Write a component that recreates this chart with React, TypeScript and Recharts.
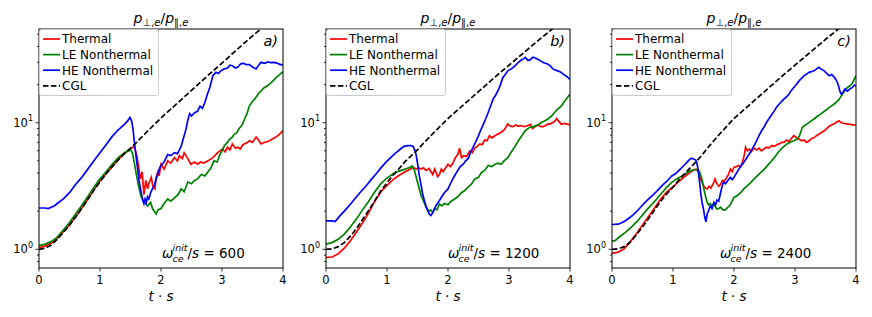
import React from 'react';
import { LineChart, Line, XAxis, YAxis } from 'recharts';

type Pt = [number, number];

const X_TICKS = [0, 1, 2, 3, 4];
const Y_TICKS = [0.8, 0.9, 1, 2, 3, 4, 5, 6, 7, 8, 9, 10, 20, 30, 40, 50];
const Y_DOMAIN: [number, number] = [0.712, 55];
const FONT = '"DejaVu Sans", "Liberation Sans", sans-serif';

// ---- panel a) omega/s = 600 ----
const aThermal: Pt[] = [
  [0, 1.03], [0.1, 1.06], [0.2, 1.12], [0.3, 1.22], [0.4, 1.38], [0.5, 1.56], [0.6, 1.8], [0.7, 2.12],
  [0.8, 2.5], [0.9, 2.95], [1.0, 3.45], [1.1, 3.95], [1.2, 4.5], [1.3, 5.1], [1.4, 5.7], [1.5, 6.25],
  [1.56, 6.5], [1.6, 5.6], [1.63, 4.6], [1.66, 3.6], [1.69, 4.1], [1.72, 2.7], [1.75, 3.5], [1.78, 3.0],
  [1.8, 3.3], [1.84, 3.7], [1.87, 3.1], [1.9, 3.0], [1.92, 3.7], [1.95, 4.1], [1.97, 3.8], [2.0, 4.7],
  [2.05, 4.3], [2.11, 5.0], [2.16, 4.8], [2.22, 5.3], [2.27, 5.0], [2.3, 5.5], [2.35, 5.2], [2.38, 5.8],
  [2.42, 5.4], [2.44, 5.2], [2.49, 4.7], [2.55, 4.9], [2.6, 4.7], [2.65, 4.9], [2.7, 4.8], [2.77, 5.0],
  [2.85, 5.3], [2.93, 5.8], [3.01, 6.2], [3.05, 5.9], [3.09, 6.4], [3.13, 6.1], [3.17, 6.8], [3.22, 6.3],
  [3.26, 6.4], [3.3, 6.2], [3.34, 6.7], [3.4, 6.9], [3.45, 7.2], [3.5, 7.0], [3.56, 7.7], [3.6, 7.3],
  [3.64, 6.8], [3.7, 7.0], [3.75, 7.1], [3.8, 7.3], [3.86, 7.6], [3.9, 7.8], [3.94, 8.1], [4.0, 8.65],
];
const aLE: Pt[] = [
  [0, 1.07], [0.1, 1.1], [0.2, 1.15], [0.3, 1.25], [0.4, 1.42], [0.5, 1.63], [0.6, 1.9], [0.7, 2.22],
  [0.8, 2.62], [0.9, 3.1], [1.0, 3.6], [1.1, 4.1], [1.2, 4.7], [1.3, 5.3], [1.4, 5.8], [1.5, 6.1],
  [1.53, 5.8], [1.56, 4.9], [1.6, 3.8], [1.63, 3.2], [1.67, 2.65], [1.72, 2.35], [1.78, 2.2], [1.83, 2.35],
  [1.86, 2.1], [1.89, 2.0], [1.92, 1.9], [1.95, 2.05], [2.0, 2.1], [2.05, 2.3], [2.11, 2.5], [2.16, 2.4],
  [2.22, 2.55], [2.28, 2.7], [2.33, 3.0], [2.38, 2.85], [2.44, 3.4], [2.5, 3.3], [2.55, 3.5], [2.6, 3.6],
  [2.66, 3.9], [2.72, 3.8], [2.77, 4.1], [2.82, 4.4], [2.87, 5.0], [2.92, 4.9], [2.96, 5.5], [3.0, 6.0],
  [3.04, 6.6], [3.08, 6.9], [3.12, 7.4], [3.16, 7.6], [3.2, 8.1], [3.24, 8.3], [3.28, 9.0], [3.33, 9.6],
  [3.37, 10.7], [3.41, 11.8], [3.45, 13.6], [3.49, 14.5], [3.53, 15.3], [3.57, 16.2], [3.61, 17.3],
  [3.65, 18.0], [3.69, 18.9], [3.74, 19.5], [3.78, 20.2], [3.82, 21.0], [3.86, 22.0], [3.9, 23.0],
  [3.94, 23.9], [4.0, 25.3],
];
const aHE: Pt[] = [
  [0, 2.12], [0.1, 2.12], [0.15, 2.1], [0.2, 2.15], [0.25, 2.2], [0.3, 2.3], [0.4, 2.5], [0.5, 2.8],
  [0.6, 3.25], [0.7, 3.7], [0.8, 4.3], [0.9, 5.0], [1.0, 5.8], [1.1, 6.7], [1.2, 7.8], [1.3, 8.8],
  [1.4, 9.7], [1.45, 10.3], [1.49, 11.0], [1.52, 10.3], [1.54, 9.0], [1.56, 7.3], [1.58, 6.0], [1.61, 4.6],
  [1.64, 3.5], [1.67, 2.9], [1.7, 2.45], [1.72, 2.3], [1.74, 2.5], [1.76, 2.35], [1.78, 2.6], [1.8, 2.5],
  [1.83, 2.8], [1.86, 3.0], [1.89, 3.2], [1.92, 3.6], [1.95, 4.0], [1.98, 4.4], [2.0, 4.6], [2.05, 4.9],
  [2.11, 5.6], [2.16, 5.5], [2.22, 5.8], [2.27, 5.7], [2.33, 6.5], [2.37, 7.6], [2.41, 8.9], [2.44, 10.5],
  [2.47, 11.8], [2.5, 11.3], [2.55, 12.0], [2.6, 12.3], [2.64, 13.5], [2.68, 13.0], [2.72, 14.5],
  [2.76, 16.8], [2.8, 19.0], [2.85, 23.5], [2.9, 25.0], [2.94, 24.5], [2.98, 25.7], [3.03, 26.5],
  [3.09, 27.0], [3.13, 28.5], [3.17, 28.2], [3.22, 27.0], [3.26, 27.5], [3.3, 29.0], [3.34, 29.5],
  [3.4, 28.8], [3.45, 28.8], [3.5, 27.5], [3.56, 26.6], [3.6, 28.5], [3.64, 30.0], [3.7, 29.5],
  [3.75, 30.2], [3.8, 29.8], [3.86, 30.0], [3.9, 29.6], [3.94, 29.0], [4.0, 28.5],
];
const aCGL: Pt[] = [
  [0, 1.0], [0.1, 1.02], [0.2, 1.08], [0.3, 1.2], [0.4, 1.36], [0.5, 1.55], [0.6, 1.8], [0.7, 2.1],
  [0.8, 2.48], [0.9, 2.93], [1.0, 3.42], [1.1, 3.95], [1.2, 4.5], [1.3, 5.1], [1.4, 5.7], [1.5, 6.3],
  [1.6, 7.0], [1.75, 8.3], [2.0, 10.9], [2.25, 14.0], [2.5, 18.0], [2.75, 23.2], [3.0, 29.6],
  [3.25, 38], [3.5, 48.5], [3.75, 61], [4.0, 77],
];

// ---- panel b) omega/s = 1200 ----
const bThermal: Pt[] = [
  [0, 0.865], [0.1, 0.87], [0.2, 0.92], [0.3, 1.02], [0.4, 1.17], [0.5, 1.37], [0.6, 1.62], [0.7, 1.95],
  [0.8, 2.4], [0.9, 2.85], [1.0, 3.2], [1.1, 3.55], [1.2, 3.85], [1.3, 4.1], [1.4, 4.35], [1.43, 4.45],
  [1.48, 4.3], [1.52, 4.4], [1.56, 4.3], [1.6, 4.4], [1.64, 4.2], [1.69, 4.35], [1.72, 4.1], [1.75, 3.9],
  [1.78, 4.3], [1.8, 4.1], [1.83, 3.75], [1.86, 3.9], [1.89, 4.3], [1.92, 4.1], [1.96, 4.4], [2.0, 4.7],
  [2.04, 4.5], [2.08, 4.8], [2.12, 5.3], [2.16, 5.6], [2.19, 6.3], [2.22, 5.3], [2.26, 5.5], [2.3, 5.4],
  [2.36, 6.0], [2.4, 5.8], [2.44, 6.3], [2.48, 6.5], [2.52, 6.8], [2.56, 6.7], [2.6, 7.3], [2.64, 7.2],
  [2.68, 7.9], [2.72, 7.6], [2.77, 7.9], [2.81, 8.1], [2.85, 8.3], [2.9, 8.6], [2.93, 8.9], [2.98, 9.8],
  [3.02, 9.4], [3.07, 9.3], [3.11, 9.6], [3.15, 9.4], [3.2, 9.5], [3.25, 9.3], [3.31, 9.5], [3.35, 9.7],
  [3.39, 9.0], [3.44, 9.4], [3.48, 9.6], [3.52, 9.3], [3.56, 9.3], [3.6, 9.5], [3.64, 9.8], [3.68, 9.8],
  [3.72, 10.05], [3.76, 10.4], [3.78, 10.8], [3.82, 10.2], [3.86, 9.7], [3.9, 9.9], [3.94, 9.8], [4.0, 9.6],
];
const bLE: Pt[] = [
  [0, 1.1], [0.1, 1.13], [0.2, 1.2], [0.3, 1.32], [0.4, 1.5], [0.5, 1.74], [0.6, 2.05], [0.7, 2.4],
  [0.8, 2.85], [0.9, 3.3], [1.0, 3.65], [1.1, 3.95], [1.2, 4.15], [1.3, 4.3], [1.38, 4.45], [1.41, 4.55],
  [1.45, 4.2], [1.5, 3.4], [1.53, 3.0], [1.56, 2.65], [1.6, 2.4], [1.64, 2.15], [1.69, 2.0], [1.72, 2.05],
  [1.75, 1.95], [1.78, 2.1], [1.82, 2.05], [1.86, 2.28], [1.9, 2.2], [1.94, 2.3], [2.0, 2.25], [2.05, 2.4],
  [2.11, 2.5], [2.16, 2.6], [2.22, 2.8], [2.27, 2.9], [2.33, 3.1], [2.38, 3.25], [2.44, 3.6], [2.5, 3.7],
  [2.55, 4.05], [2.6, 4.2], [2.66, 4.6], [2.72, 4.5], [2.77, 4.7], [2.82, 4.8], [2.87, 4.7], [2.92, 5.0],
  [2.98, 5.3], [3.03, 5.8], [3.09, 6.4], [3.13, 6.9], [3.17, 7.4], [3.22, 8.0], [3.26, 8.6], [3.3, 8.9],
  [3.34, 9.2], [3.38, 9.2], [3.42, 9.4], [3.47, 9.6], [3.53, 10.05], [3.58, 10.3], [3.64, 10.7],
  [3.7, 11.3], [3.75, 12.1], [3.8, 12.8], [3.86, 13.6], [3.9, 14.5], [3.94, 15.4], [4.0, 16.8],
];
const bHE: Pt[] = [
  [0, 1.68], [0.1, 1.68], [0.15, 1.66], [0.22, 1.82], [0.33, 2.08], [0.41, 2.3], [0.49, 2.57], [0.57, 2.85],
  [0.66, 3.18], [0.74, 3.55], [0.82, 3.93], [0.9, 4.4], [0.98, 4.86], [1.06, 5.3], [1.15, 5.8], [1.22, 6.2],
  [1.28, 6.5], [1.34, 6.6], [1.39, 6.6], [1.43, 6.5], [1.46, 6.0], [1.48, 5.5], [1.5, 4.8], [1.53, 3.8],
  [1.56, 3.2], [1.58, 2.8], [1.61, 2.45], [1.64, 2.2], [1.67, 2.0], [1.7, 1.88], [1.72, 1.85], [1.75, 1.95],
  [1.78, 2.1], [1.8, 2.2], [1.84, 2.35], [1.89, 2.57], [1.94, 2.8], [2.0, 3.0], [2.04, 3.3], [2.08, 3.6],
  [2.12, 3.9], [2.16, 4.2], [2.2, 4.5], [2.25, 4.7], [2.29, 5.0], [2.33, 5.2], [2.37, 5.8], [2.41, 6.4],
  [2.45, 7.0], [2.49, 7.7], [2.53, 8.6], [2.57, 9.5], [2.62, 10.8], [2.66, 12.1], [2.7, 13.6], [2.74, 15.4],
  [2.78, 16.5], [2.82, 17.9], [2.86, 20.0], [2.9, 22.8], [2.94, 24.0], [2.98, 25.7], [3.03, 26.5],
  [3.07, 27.4], [3.11, 28.5], [3.15, 29.9], [3.19, 31.0], [3.23, 31.8], [3.27, 32.8], [3.31, 31.0],
  [3.35, 31.5], [3.39, 32.9], [3.43, 32.5], [3.48, 31.6], [3.52, 30.8], [3.56, 29.9], [3.6, 29.5],
  [3.64, 29.0], [3.68, 28.0], [3.72, 26.6], [3.76, 26.0], [3.8, 25.7], [3.85, 25.0], [3.89, 24.2],
  [3.94, 23.3], [4.0, 22.0],
];
const bCGL: Pt[] = [
  [0, 1.0], [0.1, 1.01], [0.2, 1.05], [0.3, 1.13], [0.4, 1.27], [0.5, 1.46], [0.6, 1.72], [0.7, 2.03],
  [0.8, 2.42], [0.9, 2.9], [1.0, 3.35], [1.1, 3.85], [1.2, 4.35], [1.3, 4.95], [1.4, 5.5], [1.5, 6.1],
  [1.6, 6.9], [1.8, 8.65], [2.0, 10.8], [2.25, 13.8], [2.5, 17.6], [2.75, 22.5], [3.0, 28.5],
  [3.25, 36], [3.5, 45.5], [3.75, 57], [4.0, 71],
];

// ---- panel c) omega/s = 2400 ----
const cThermal: Pt[] = [
  [0, 0.93], [0.1, 0.95], [0.2, 1.01], [0.3, 1.15], [0.4, 1.33], [0.5, 1.56], [0.6, 1.82], [0.7, 2.13],
  [0.8, 2.5], [0.9, 2.85], [1.0, 3.12], [1.1, 3.45], [1.2, 3.78], [1.28, 4.05], [1.34, 4.25], [1.38, 4.3],
  [1.41, 4.15], [1.45, 3.6], [1.5, 3.2], [1.53, 3.05], [1.56, 3.0], [1.59, 3.15], [1.62, 3.05], [1.66, 3.3],
  [1.69, 3.6], [1.72, 3.3], [1.75, 3.15], [1.78, 3.25], [1.81, 3.5], [1.84, 3.45], [1.88, 3.7], [1.91, 3.9],
  [1.94, 4.3], [1.97, 4.1], [2.0, 4.45], [2.04, 4.5], [2.08, 4.6], [2.11, 4.5], [2.14, 4.9], [2.17, 5.6],
  [2.19, 6.4], [2.22, 6.0], [2.25, 6.2], [2.28, 5.9], [2.33, 6.3], [2.37, 6.1], [2.41, 6.3], [2.45, 6.0],
  [2.49, 6.2], [2.53, 6.4], [2.57, 6.3], [2.62, 6.6], [2.66, 6.5], [2.7, 6.7], [2.74, 6.8], [2.78, 7.0],
  [2.82, 7.0], [2.86, 7.3], [2.9, 7.1], [2.94, 7.5], [2.98, 7.9], [3.03, 7.6], [3.07, 7.4], [3.11, 7.2],
  [3.15, 7.3], [3.19, 7.0], [3.23, 7.2], [3.27, 7.5], [3.31, 7.6], [3.35, 7.9], [3.39, 8.1], [3.44, 8.4],
  [3.48, 8.65], [3.52, 9.0], [3.56, 9.4], [3.6, 9.6], [3.64, 9.8], [3.68, 10.1], [3.72, 10.35],
  [3.76, 10.0], [3.8, 9.9], [3.85, 9.8], [3.9, 9.7], [3.95, 9.6], [4.0, 9.6],
];
const cLE: Pt[] = [
  [0, 1.16], [0.05, 1.17], [0.11, 1.24], [0.22, 1.36], [0.33, 1.52], [0.41, 1.66], [0.49, 1.84], [0.57, 2.05],
  [0.66, 2.28], [0.74, 2.52], [0.82, 2.8], [0.9, 3.1], [0.98, 3.38], [1.06, 3.6], [1.15, 3.8], [1.22, 4.0],
  [1.28, 4.17], [1.34, 4.25], [1.39, 4.25], [1.43, 4.15], [1.46, 3.8], [1.48, 3.48], [1.5, 3.1], [1.52, 2.8],
  [1.54, 2.55], [1.56, 2.35], [1.58, 2.25], [1.61, 2.3], [1.64, 2.2], [1.67, 2.3], [1.7, 2.15], [1.72, 2.08],
  [1.75, 2.1], [1.78, 2.15], [1.82, 2.05], [1.86, 2.05], [1.9, 2.15], [1.94, 2.25], [2.0, 2.57], [2.05, 2.65],
  [2.11, 2.8], [2.16, 3.0], [2.22, 3.18], [2.27, 3.35], [2.33, 3.6], [2.38, 3.8], [2.44, 4.05], [2.5, 4.3],
  [2.55, 4.6], [2.6, 4.9], [2.66, 5.3], [2.72, 5.8], [2.77, 6.2], [2.82, 6.5], [2.87, 6.8], [2.92, 7.0],
  [2.98, 7.2], [3.03, 7.4], [3.07, 7.8], [3.1, 8.6], [3.12, 9.2], [3.16, 9.5], [3.2, 9.8], [3.25, 10.2],
  [3.31, 10.7], [3.36, 11.2], [3.42, 11.7], [3.47, 12.2], [3.53, 12.8], [3.58, 13.4], [3.64, 14.0],
  [3.68, 14.6], [3.72, 15.2], [3.76, 16.3], [3.8, 17.5], [3.86, 19.0], [3.9, 19.6], [3.94, 20.5],
  [3.97, 22.0], [4.0, 23.5],
];
const cHE: Pt[] = [
  [0, 1.57], [0.1, 1.58], [0.16, 1.62], [0.22, 1.68], [0.33, 1.84], [0.41, 2.0], [0.49, 2.21], [0.57, 2.42],
  [0.66, 2.65], [0.74, 2.9], [0.82, 3.18], [0.9, 3.45], [0.98, 3.8], [1.04, 3.95], [1.09, 4.17], [1.15, 4.45],
  [1.2, 4.7], [1.25, 5.0], [1.28, 5.17], [1.31, 5.25], [1.34, 5.15], [1.37, 5.1], [1.39, 4.86], [1.41, 4.3],
  [1.43, 3.6], [1.46, 2.65], [1.48, 2.3], [1.5, 2.08], [1.52, 1.8], [1.54, 1.65], [1.56, 1.9], [1.58, 2.0],
  [1.61, 2.2], [1.64, 2.1], [1.67, 2.35], [1.7, 2.25], [1.72, 2.45], [1.75, 2.4], [1.78, 2.8], [1.81, 3.2],
  [1.83, 3.4], [1.86, 3.3], [1.89, 3.45], [1.92, 3.6], [1.94, 3.7], [1.97, 3.55], [2.0, 3.7], [2.04, 4.0],
  [2.08, 4.3], [2.12, 4.6], [2.16, 4.86], [2.2, 5.2], [2.25, 5.66], [2.29, 6.1], [2.33, 6.6], [2.37, 7.2],
  [2.41, 7.9], [2.45, 8.6], [2.49, 9.2], [2.53, 10.0], [2.57, 10.7], [2.62, 11.6], [2.66, 12.4],
  [2.7, 13.3], [2.74, 14.0], [2.78, 14.7], [2.82, 15.4], [2.86, 16.0], [2.9, 16.8], [2.94, 18.0],
  [2.98, 19.0], [3.03, 20.2], [3.07, 21.5], [3.11, 22.5], [3.15, 23.5], [3.19, 24.2], [3.23, 25.0],
  [3.27, 25.3], [3.31, 25.7], [3.35, 26.5], [3.39, 27.4], [3.43, 26.5], [3.48, 25.7], [3.52, 24.5],
  [3.56, 23.5], [3.6, 24.0], [3.64, 23.0], [3.67, 22.0], [3.7, 20.5], [3.72, 19.0], [3.74, 17.5],
  [3.76, 16.8], [3.79, 17.5], [3.82, 18.5], [3.86, 17.8], [3.9, 18.5], [3.94, 19.0], [3.97, 19.8], [4.0, 19.6],
];
const cCGL: Pt[] = [
  [0, 1.0], [0.1, 1.01], [0.2, 1.05], [0.3, 1.14], [0.4, 1.3], [0.5, 1.5], [0.6, 1.75], [0.7, 2.05],
  [0.8, 2.4], [0.9, 2.75], [1.0, 3.1], [1.1, 3.55], [1.2, 4.0], [1.3, 4.5], [1.4, 5.05], [1.5, 5.75],
  [1.6, 6.6], [1.7, 7.5], [1.8, 8.5], [2.0, 10.8], [2.25, 13.8], [2.5, 17.6], [2.75, 22.5], [3.0, 28.5],
  [3.25, 36], [3.5, 45.5], [3.75, 57], [4.0, 71],
];

const SERIES = [
  { name: 'Thermal', color: '#ff0000', dash: undefined },
  { name: 'LE Nonthermal', color: '#008000', dash: undefined },
  { name: 'HE Nonthermal', color: '#0000ff', dash: undefined },
  { name: 'CGL', color: '#000000', dash: '5.5 2.4' },
];

const PANELS = [
  { left: 0, letter: 'a)', omega: '600', noteX: 162, lines: [aThermal, aLE, aHE, aCGL] },
  { left: 287, letter: 'b)', omega: '1200', noteX: 448, lines: [bThermal, bLE, bHE, bCGL] },
  { left: 573, letter: 'c)', omega: '2400', noteX: 720, lines: [cThermal, cLE, cHE, cCGL] },
];

const W = 287;
const H = 317;
const PL = 39; // plot left inside a panel
const PT = 29;
const PW = 244;
const PH = 239;

const rows = (pts: Pt[]) => pts.map(([t, v]) => ({ t, v }));

const LogTick = (props: any) => {
  const { x, y, payload } = props;
  const v = payload.value;
  const major = v === 1 || v === 10;
  return (
    <g>
      <line x1={x - (major ? 3.5 : 2)} x2={x} y1={y} y2={y} stroke="#000" strokeWidth={0.8} />
      {major && (
        <text x={x - 6} y={y} dy={4} textAnchor="end" fontSize={11.5} fill="#000" fontFamily={FONT}>
          10<tspan dy={-5.5} fontSize={8}>{v === 1 ? '0' : '1'}</tspan>
        </text>
      )}
    </g>
  );
};

function Panel({ p }: { p: (typeof PANELS)[number] }) {
  return (
    <div style={{ position: 'absolute', left: p.left, top: 0, width: W, height: H }}>
      <LineChart width={W} height={H} margin={{ top: PT, right: W - PL - PW, bottom: 0, left: 0 }}>
        <XAxis
          type="number"
          dataKey="t"
          domain={[0, 4]}
          ticks={X_TICKS}
          interval={0}
          allowDataOverflow
          height={H - PT - PH}
          axisLine={false}
          tickSize={3.5}
          tickMargin={4}
          tickLine={{ stroke: '#000', strokeWidth: 0.8 }}
          tick={{ fontSize: 11.5, fill: '#000', fontFamily: FONT }}
        />
        <YAxis
          scale="log"
          domain={Y_DOMAIN}
          ticks={Y_TICKS}
          interval={0}
          allowDataOverflow
          width={PL}
          axisLine={false}
          tickLine={false}
          tickSize={0}
          tickMargin={0}
          tick={<LogTick />}
        />
        {p.lines.map((pts, i) => (
          <Line
            key={SERIES[i].name}
            data={rows(pts)}
            dataKey="v"
            type="linear"
            stroke={SERIES[i].color}
            strokeWidth={1.7}
            strokeDasharray={SERIES[i].dash}
            dot={false}
            activeDot={false}
            isAnimationActive={false}
          />
        ))}
      </LineChart>
    </div>
  );
}

function Overlay() {
  return (
    <svg width={872} height={317} style={{ position: 'absolute', left: 0, top: 0, pointerEvents: 'none' }} fontFamily={FONT}>
      {PANELS.map(p => {
        const ox = p.left;
        const cx = ox + PL + PW / 2;
        return (
          <g key={p.letter}>
            <rect x={ox + PL} y={PT} width={PW} height={PH} fill="none" stroke="#000" strokeWidth={1} />
            <text x={cx} y={23} textAnchor="middle" fontSize={14} fill="#000">
              <tspan fontStyle="italic">p</tspan>
              <tspan fontSize={10} dy={3}>⊥,</tspan>
              <tspan fontSize={10} fontStyle="italic">e</tspan>
              <tspan dy={-3}>/</tspan>
              <tspan fontStyle="italic">p</tspan>
              <tspan fontSize={10} dy={3}>∥,</tspan>
              <tspan fontSize={10} fontStyle="italic">e</tspan>
            </text>
            <text x={ox + 278} y={46} textAnchor="end" fontSize={14.5} fontStyle="italic" fill="#000">
              {p.letter}
            </text>
            <text x={p.noteX} y={258.3} fontSize={13.5} fontStyle="italic" fill="#000">ω</text>
            <text x={p.noteX + 10.5} y={251} fontSize={9.5} fontStyle="italic" fill="#000">init</text>
            <text x={p.noteX + 10.5} y={261.5} fontSize={9.5} fontStyle="italic" fill="#000">ce</text>
            <text x={p.noteX + 25.5} y={258.3} fontSize={13.5} fill="#000">
              /<tspan fontStyle="italic">s</tspan> = {p.omega}
            </text>
            <text x={cx} y={300.5} textAnchor="middle" fontSize={13.5} fill="#000">
              <tspan fontStyle="italic">t</tspan> · <tspan fontStyle="italic">s</tspan>
            </text>
            <rect x={ox + PL + 0.5} y={PT + 0.5} width={119} height={66} rx={2.5}
              fill="#fff" fillOpacity={0.8} stroke="#cccccc" strokeWidth={1} />
            {SERIES.map((s, i) => {
              const y = PT + 10 + i * 15.6;
              return (
                <g key={s.name}>
                  <line x1={ox + PL + 4} x2={ox + PL + 21} y1={y} y2={y} stroke={s.color}
                    strokeWidth={1.7} strokeDasharray={s.dash} />
                  <text x={ox + PL + 23} y={y + 4.3} fontSize={12} fill="#000">{s.name}</text>
                </g>
              );
            })}
          </g>
        );
      })}
    </svg>
  );
}

export default function App() {
  return (
    <div style={{ position: 'absolute', left: 0, top: 0, width: 872, height: 317, background: '#fff', fontFamily: FONT }}>
      {PANELS.map(p => <Panel key={p.letter} p={p} />)}
      <Overlay />
    </div>
  );
}
